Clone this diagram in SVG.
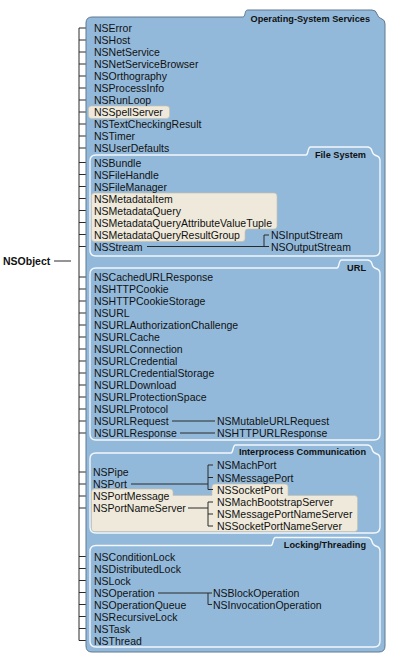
<svg xmlns="http://www.w3.org/2000/svg" width="417" height="662" viewBox="0 0 417 662">
<style>
.t{font-family:"Liberation Sans",Arial,Helvetica,sans-serif;font-size:10.5px;fill:#111;}
.h{font-family:"Liberation Sans",Arial,Helvetica,sans-serif;font-size:9.2px;font-weight:bold;fill:#111;text-anchor:end;}
.root{font-family:"Liberation Sans",Arial,Helvetica,sans-serif;font-size:10.5px;font-weight:bold;fill:#111;}
.panel{fill:#93b9da;stroke:#5f7891;stroke-width:1;}
.sec{fill:#93b9da;stroke:#f4f8fc;stroke-width:1.4;}
.beige{fill:#eee9da;stroke:#c9c0a6;stroke-width:0.6;}
.ln{fill:none;stroke:#2a2a2a;stroke-width:1;}
</style>
<g id="connectors-left">
<path class="ln" d="M54,261 H71 M79,28 V640.5 M79,28 H88 M79,40 H88 M79,52 H88 M79,64 H88 M79,76 H88 M79,88 H88 M79,100 H88 M79,112 H88 M79,124 H88 M79,136 H88 M79,148 H88 M79,162.5 H88 M79,174.5 H88 M79,186.5 H88 M79,198.5 H88 M79,210.5 H88 M79,222.5 H88 M79,234.5 H88 M79,246.5 H88 M79,277 H88 M79,289 H88 M79,301 H88 M79,313 H88 M79,325 H88 M79,337 H88 M79,349 H88 M79,361 H88 M79,373 H88 M79,385 H88 M79,397 H88 M79,409 H88 M79,421 H88 M79,433 H88 M79,472 H88 M79,484 H88 M79,496 H88 M79,508 H88 M79,556.5 H88 M79,568.5 H88 M79,580.5 H88 M79,592.5 H88 M79,604.5 H88 M79,616.5 H88 M79,628.5 H88 M79,640.5 H88"/>
</g>
<g id="NSObject"><text class="root" x="3" y="265">NSObject</text></g>
<g id="os-services">
<path class="panel" d="M86,23 Q86,17 92,17 L243,17 C245.5,17 244.5,10 247.5,10 L372,10 Q376,10 377,14 Q378,18 382,19 Q385,20 385,24 L385,646 Q385,652 379,652 L92,652 Q86,652 86,646 Z"/>
<text class="h" x="370" y="21.5">Operating-System Services</text>
<rect class="beige" x="88.5" y="106" width="81" height="12.5" rx="3"/>
<text class="t" x="94" y="32">NSError</text>
<text class="t" x="94" y="44">NSHost</text>
<text class="t" x="94" y="56">NSNetService</text>
<text class="t" x="94" y="68">NSNetServiceBrowser</text>
<text class="t" x="94" y="80">NSOrthography</text>
<text class="t" x="94" y="92">NSProcessInfo</text>
<text class="t" x="94" y="104">NSRunLoop</text>
<text class="t" x="94" y="116">NSSpellServer</text>
<text class="t" x="94" y="128">NSTextCheckingResult</text>
<text class="t" x="94" y="140">NSTimer</text>
<text class="t" x="94" y="152">NSUserDefaults</text>
</g>
<g id="file-system">
<path class="sec" d="M90,161 Q90,155 96,155 L306,155 C308.5,155 307.5,147 310.5,147 L367,147 Q371,147 372,151 Q373,155 377,156 Q380,157 380,161 L380,250 Q380,256 374,256 L96,256 Q90,256 90,250 Z"/>
<text class="h" x="366" y="157.5">File System</text>
<path class="beige" d="M91.5,196 Q91.5,193 94.5,193 L274,193 Q277,193 277,196 L277,226 Q277,229 274,229 L248,229 Q245,229 245,232 L245,238.5 Q245,241.5 242,241.5 L94.5,241.5 Q91.5,241.5 91.5,238.5 Z"/>
<text class="t" x="94" y="166.5">NSBundle</text>
<text class="t" x="94" y="178.5">NSFileHandle</text>
<text class="t" x="94" y="190.5">NSFileManager</text>
<text class="t" x="94" y="202.5">NSMetadataItem</text>
<text class="t" x="94" y="214.5">NSMetadataQuery</text>
<text class="t" x="94" y="226.5">NSMetadataQueryAttributeValueTuple</text>
<text class="t" x="94" y="238.5">NSMetadataQueryResultGroup</text>
<text class="t" x="94" y="250.5">NSStream</text>
<text class="t" x="271" y="238.8">NSInputStream</text>
<text class="t" x="271" y="250.5">NSOutputStream</text>
</g>
<g id="url">
<path class="sec" d="M90,274 Q90,268 96,268 L337,268 C339.5,268 338.5,260 341.5,260 L367,260 Q371,260 372,264 Q373,268 377,269 Q380,270 380,274 L380,434 Q380,440 374,440 L96,440 Q90,440 90,434 Z"/>
<text class="h" x="366" y="271">URL</text>
<text class="t" x="94" y="281">NSCachedURLResponse</text>
<text class="t" x="94" y="293">NSHTTPCookie</text>
<text class="t" x="94" y="305">NSHTTPCookieStorage</text>
<text class="t" x="94" y="317">NSURL</text>
<text class="t" x="94" y="329">NSURLAuthorizationChallenge</text>
<text class="t" x="94" y="341">NSURLCache</text>
<text class="t" x="94" y="353">NSURLConnection</text>
<text class="t" x="94" y="365">NSURLCredential</text>
<text class="t" x="94" y="377">NSURLCredentialStorage</text>
<text class="t" x="94" y="389">NSURLDownload</text>
<text class="t" x="94" y="401">NSURLProtectionSpace</text>
<text class="t" x="94" y="413">NSURLProtocol</text>
<text class="t" x="94" y="425">NSURLRequest</text>
<text class="t" x="94" y="437">NSURLResponse</text>
<text class="t" x="217" y="425">NSMutableURLRequest</text>
<text class="t" x="217" y="437">NSHTTPURLResponse</text>
</g>
<g id="ipc">
<path class="sec" d="M90,459 Q90,453 96,453 L231,453 C233.5,453 232.5,445 235.5,445 L367,445 Q371,445 372,449 Q373,453 377,454 Q380,455 380,459 L380,527 Q380,533 374,533 L96,533 Q90,533 90,527 Z"/>
<text class="h" x="366" y="455">Interprocess Communication</text>
<path class="beige" d="M91.5,492 Q91.5,489 94.5,489 L170,489 Q173,489 173,492 L173,495.5 L212,495.5 L212,487 Q212,484 215,484 L285,484 Q288,484 288,487 L288,495.5 L354.5,495.5 Q357.5,495.5 357.5,498.5 L357.5,528.5 Q357.5,531.5 354.5,531.5 L94.5,531.5 Q91.5,531.5 91.5,528.5 Z"/>
<text class="t" x="93" y="476">NSPipe</text>
<text class="t" x="93" y="488">NSPort</text>
<text class="t" x="93" y="500">NSPortMessage</text>
<text class="t" x="93" y="512">NSPortNameServer</text>
<text class="t" x="217" y="469">NSMachPort</text>
<text class="t" x="217" y="481.5">NSMessagePort</text>
<text class="t" x="217" y="493.5">NSSocketPort</text>
<text class="t" x="217" y="506">NSMachBootstrapServer</text>
<text class="t" x="217" y="518">NSMessagePortNameServer</text>
<text class="t" x="217" y="530">NSSocketPortNameServer</text>
</g>
<g id="locking">
<path class="sec" d="M90,551.5 Q90,545.5 96,545.5 L271,545.5 C273.5,545.5 272.5,537.5 275.5,537.5 L367,537.5 Q371,537.5 372,541.5 Q373,545.5 377,546.5 Q380,547.5 380,551.5 L380,641 Q380,647 374,647 L96,647 Q90,647 90,641 Z"/>
<text class="h" x="366" y="548">Locking/Threading</text>
<text class="t" x="94" y="560.5">NSConditionLock</text>
<text class="t" x="94" y="572.5">NSDistributedLock</text>
<text class="t" x="94" y="584.5">NSLock</text>
<text class="t" x="94" y="596.5">NSOperation</text>
<text class="t" x="94" y="608.5">NSOperationQueue</text>
<text class="t" x="94" y="620.5">NSRecursiveLock</text>
<text class="t" x="94" y="632.5">NSTask</text>
<text class="t" x="94" y="644.5">NSThread</text>
<text class="t" x="213" y="597">NSBlockOperation</text>
<text class="t" x="213" y="608.5">NSInvocationOperation</text>
</g>
<g id="connectors">
<path class="ln" d="M147,246.5 H269 M264,246.5 V235 H269"/>
<path class="ln" d="M172,421 H215 M180,433 H215"/>
<path class="ln" d="M131,484 H208 M208,465 V489.5 M208,465 H213 M208,477.5 H213 M208,489.5 H213"/>
<path class="ln" d="M188,508 H208 M208,502 V526 M208,502 H213 M208,514 H213 M208,526 H213"/>
<path class="ln" d="M158,593 H212 M208,593 V604.5 H212"/>
</g>
</svg>
